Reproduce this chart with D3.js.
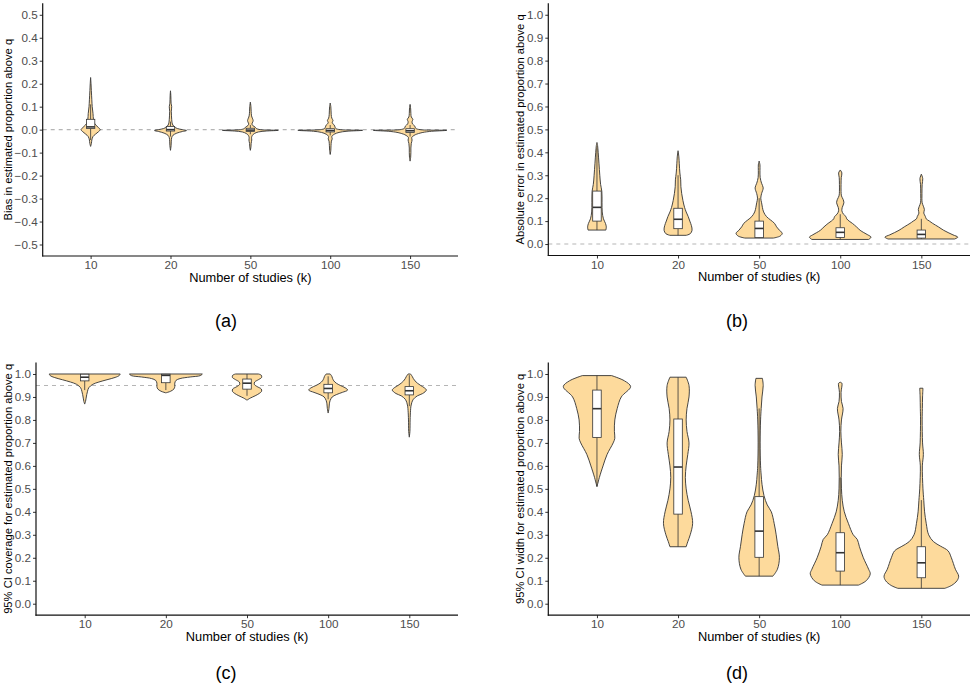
<!DOCTYPE html>
<html><head><meta charset="utf-8">
<script src="https://cdn.jsdelivr.net/npm/d3@7"></script>
<style>body{margin:0;background:#fff}svg{display:block}</style>
</head><body><svg id="chart" width="975" height="686"></svg>
<script>
// ---------- DATA ----------
const categories = ["10", "20", "50", "100", "150"];
const biasTicks = [-0.5, -0.4, -0.3, -0.2, -0.1, 0.0, 0.1, 0.2, 0.3, 0.4, 0.5];
const unitTicks = [0.0, 0.1, 0.2, 0.3, 0.4, 0.5, 0.6, 0.7, 0.8, 0.9, 1.0];

// violin profiles: [value, relative density (full width as share of category step)]
const biasDensity = [
  [[-0.073,0],[-0.06,0.02],[-0.045,0.03],[-0.03,0.06],[-0.02,0.12],[-0.01,0.19],[0,0.24],[0.01,0.19],[0.02,0.13],[0.03,0.09],[0.045,0.07],[0.07,0.06],[0.1,0.04],[0.13,0.03],[0.17,0.018],[0.2,0.01],[0.227,0]],
  [[-0.09,0],[-0.07,0.015],[-0.05,0.02],[-0.035,0.03],[-0.025,0.06],[-0.015,0.16],[-0.008,0.3],[-0.004,0.4],[0.0,0.3],[0.005,0.17],[0.012,0.1],[0.02,0.06],[0.03,0.04],[0.045,0.03],[0.06,0.025],[0.08,0.02],[0.1,0.03],[0.115,0.015],[0.13,0.012],[0.15,0.008],[0.169,0]],
  [[-0.09,0],[-0.075,0.015],[-0.06,0.02],[-0.045,0.035],[-0.035,0.03],[-0.025,0.05],[-0.017,0.1],[-0.01,0.2],[-0.006,0.4],[-0.003,0.7],[0.0,0.25],[0.005,0.15],[0.011,0.12],[0.018,0.06],[0.025,0.04],[0.033,0.06],[0.04,0.07],[0.05,0.05],[0.06,0.03],[0.08,0.02],[0.1,0.015],[0.12,0]],
  [[-0.108,0],[-0.09,0.015],[-0.07,0.02],[-0.05,0.03],[-0.04,0.05],[-0.03,0.04],[-0.02,0.1],[-0.012,0.22],[-0.007,0.42],[-0.003,0.81],[0.0,0.25],[0.005,0.14],[0.012,0.12],[0.02,0.1],[0.03,0.05],[0.04,0.07],[0.05,0.04],[0.065,0.025],[0.085,0.02],[0.1,0.015],[0.116,0]],
  [[-0.137,0],[-0.12,0.015],[-0.1,0.02],[-0.08,0.02],[-0.06,0.03],[-0.045,0.05],[-0.035,0.04],[-0.025,0.1],[-0.015,0.25],[-0.008,0.48],[-0.003,0.92],[0.0,0.25],[0.006,0.14],[0.015,0.12],[0.025,0.06],[0.035,0.05],[0.045,0.07],[0.055,0.03],[0.07,0.02],[0.09,0.015],[0.11,0]]
];
// box stats: [lower whisker, q1, median, q3, upper whisker]
const biasBoxes = [
  [-0.045, 0.005, 0.012, 0.045, 0.11],
  [-0.03, -0.006, 0.0, 0.014, 0.035],
  [-0.02, -0.008, -0.002, 0.006, 0.02],
  [-0.025, -0.01, -0.004, 0.004, 0.02],
  [-0.03, -0.012, -0.005, 0.004, 0.02]
];

const absErrDensity = [
  [[0.061,0.22],[0.075,0.23],[0.09,0.21],[0.11,0.16],[0.14,0.13],[0.18,0.125],[0.23,0.12],[0.26,0.09],[0.3,0.07],[0.35,0.05],[0.4,0.03],[0.43,0.015],[0.443,0]],
  [[0.038,0.2],[0.045,0.3],[0.06,0.345],[0.08,0.33],[0.1,0.29],[0.12,0.25],[0.14,0.2],[0.16,0.16],[0.19,0.12],[0.22,0.09],[0.25,0.07],[0.28,0.065],[0.31,0.045],[0.35,0.03],[0.38,0.02],[0.407,0]],
  [[0.026,0.35],[0.035,0.52],[0.047,0.57],[0.06,0.5],[0.075,0.43],[0.09,0.38],[0.105,0.28],[0.12,0.18],[0.14,0.11],[0.16,0.08],[0.18,0.06],[0.2,0.04],[0.22,0.06],[0.245,0.1],[0.265,0.06],[0.29,0.025],[0.32,0.02],[0.345,0.02],[0.362,0]],
  [[0.02,0.7],[0.03,0.76],[0.04,0.68],[0.05,0.58],[0.06,0.49],[0.075,0.4],[0.09,0.3],[0.1,0.22],[0.11,0.16],[0.12,0.14],[0.13,0.08],[0.145,0.04],[0.16,0.05],[0.18,0.09],[0.195,0.07],[0.21,0.03],[0.23,0.02],[0.26,0.02],[0.29,0.025],[0.31,0.04],[0.323,0]],
  [[0.022,0.82],[0.03,0.9],[0.04,0.78],[0.05,0.66],[0.06,0.55],[0.075,0.42],[0.09,0.28],[0.1,0.2],[0.11,0.12],[0.12,0.1],[0.135,0.06],[0.15,0.075],[0.165,0.05],[0.18,0.02],[0.22,0.015],[0.26,0.02],[0.285,0.035],[0.305,0]]
];
const absErrBoxes = [
  [0.061, 0.1, 0.16, 0.231, 0.42],
  [0.038, 0.067, 0.108, 0.156, 0.3],
  [0.026, 0.028, 0.068, 0.1, 0.2],
  [0.02, 0.029, 0.051, 0.071, 0.13],
  [0.022, 0.026, 0.042, 0.061, 0.11]
];

const coverageDensity = [
  [[0.869,0],[0.88,0.02],[0.895,0.035],[0.91,0.05],[0.925,0.07],[0.94,0.1],[0.955,0.2],[0.965,0.35],[0.975,0.55],[0.985,0.75],[0.993,0.85],[1.0,0.875]],
  [[0.918,0],[0.925,0.12],[0.935,0.2],[0.945,0.22],[0.96,0.22],[0.972,0.25],[0.98,0.35],[0.987,0.6],[0.993,0.85],[1.0,0.9]],
  [[0.886,0],[0.895,0.08],[0.905,0.2],[0.915,0.3],[0.925,0.36],[0.935,0.35],[0.945,0.25],[0.955,0.18],[0.965,0.19],[0.975,0.28],[0.985,0.36],[0.995,0.35],[1.0,0.28]],
  [[0.83,0],[0.85,0.02],[0.87,0.03],[0.885,0.05],[0.9,0.1],[0.91,0.2],[0.92,0.35],[0.93,0.48],[0.94,0.42],[0.95,0.3],[0.96,0.2],[0.97,0.14],[0.98,0.11],[0.99,0.09],[1.0,0.05]],
  [[0.725,0],[0.75,0.015],[0.8,0.02],[0.84,0.03],[0.86,0.04],[0.875,0.06],[0.89,0.1],[0.905,0.2],[0.915,0.33],[0.93,0.42],[0.94,0.37],[0.95,0.28],[0.96,0.2],[0.97,0.14],[0.98,0.1],[0.99,0.07],[1.0,0.03]]
];
const coverageBoxes = [
  [0.93, 0.97, 0.986, 0.999, 1.0],
  [0.93, 0.962, 0.994, 0.999, 1.0],
  [0.905, 0.934, 0.96, 0.978, 1.0],
  [0.89, 0.918, 0.937, 0.955, 0.99],
  [0.86, 0.909, 0.927, 0.945, 0.995]
];

const widthDensity = [
  [[0.51,0],[0.53,0.03],[0.55,0.06],[0.6,0.15],[0.65,0.25],[0.7,0.4],[0.72,0.44],[0.75,0.43],[0.8,0.44],[0.85,0.5],[0.9,0.6],[0.945,0.83],[0.97,0.68],[0.993,0.36]],
  [[0.248,0.2],[0.27,0.24],[0.3,0.3],[0.35,0.36],[0.4,0.32],[0.45,0.25],[0.5,0.2],[0.55,0.18],[0.6,0.2],[0.65,0.24],[0.7,0.27],[0.75,0.22],[0.8,0.2],[0.85,0.22],[0.9,0.27],[0.95,0.27],[0.986,0.2]],
  [[0.12,0.34],[0.15,0.45],[0.2,0.5],[0.25,0.46],[0.3,0.42],[0.35,0.37],[0.4,0.3],[0.43,0.2],[0.47,0.12],[0.52,0.07],[0.56,0.05],[0.6,0.035],[0.7,0.025],[0.8,0.035],[0.85,0.05],[0.9,0.07],[0.95,0.1],[0.981,0.08]],
  [[0.081,0.45],[0.1,0.64],[0.13,0.74],[0.15,0.7],[0.2,0.57],[0.25,0.47],[0.28,0.42],[0.3,0.32],[0.35,0.2],[0.4,0.1],[0.45,0.05],[0.5,0.03],[0.55,0.025],[0.6,0.03],[0.65,0.05],[0.7,0.03],[0.75,0.015],[0.8,0.03],[0.85,0.07],[0.88,0.03],[0.92,0.02],[0.96,0.04],[0.964,0]],
  [[0.067,0.58],[0.08,0.75],[0.1,0.88],[0.12,0.92],[0.15,0.84],[0.2,0.74],[0.23,0.66],[0.25,0.48],[0.27,0.3],[0.3,0.18],[0.35,0.12],[0.4,0.08],[0.45,0.06],[0.5,0.04],[0.6,0.025],[0.65,0.05],[0.7,0.03],[0.8,0.02],[0.85,0.025],[0.9,0.03],[0.938,0.04]]
];
const widthBoxes = [
  [0.51, 0.724, 0.849, 0.93, 0.993],
  [0.248, 0.39, 0.595, 0.804, 0.986],
  [0.12, 0.202, 0.316, 0.466, 0.85],
  [0.081, 0.142, 0.222, 0.309, 0.55],
  [0.067, 0.113, 0.178, 0.248, 0.451]
];

const yTitles = [
  "Bias in estimated proportion above q",
  "Absolute error in estimated proportion above q",
  "95% CI coverage for estimated proportion above q",
  "95% CI width for estimated proportion above q"
];
const xTitle = "Number of studies (k)";
const panelLabels = ["(a)", "(b)", "(c)", "(d)"];
const referenceLines = [0, 0, 0.95, null];

// ---------- LAYOUT ----------
const layout = [
  {left: 42.7, right: 458, top: 3.3, bottom: 256, domain: [-0.55, 0.55], titleX: 8, labelX: 226, labelY: 321},
  {left: 548.3, right: 970, top: 3.3, bottom: 255.5, domain: [-0.05, 1.05], titleX: 520, labelX: 737, labelY: 321},
  {left: 36, right: 458, top: 362.5, bottom: 615.2, domain: [-0.05, 1.05], titleX: 8, labelX: 226, labelY: 673},
  {left: 548.3, right: 970, top: 362.5, bottom: 615.2, domain: [-0.05, 1.05], titleX: 520, labelX: 737, labelY: 673}
];
const panelData = [
  {density: biasDensity, boxes: biasBoxes, ticks: biasTicks},
  {density: absErrDensity, boxes: absErrBoxes, ticks: unitTicks},
  {density: coverageDensity, boxes: coverageBoxes, ticks: unitTicks},
  {density: widthDensity, boxes: widthBoxes, ticks: unitTicks}
];

const FILL = "#FDDA9C", INK = "#333333", FONT = "'Liberation Sans', Arial, Helvetica, sans-serif";
const svg = d3.select("#chart");
const fmt = d3.format(".1f");

layout.forEach((L, i) => {
  const P = panelData[i];
  const g = svg.append("g");
  const x = d3.scalePoint().domain(categories).range([L.left, L.right]).padding(0.6);
  const y = d3.scaleLinear().domain(L.domain).range([L.bottom, L.top]);
  const step = x.step();
  const w = d3.scaleLinear().domain([0, 1]).range([0, step / 2]);

  if (referenceLines[i] !== null) {
    g.append("line")
      .attr("x1", L.left).attr("x2", L.right)
      .attr("y1", y(referenceLines[i])).attr("y2", y(referenceLines[i]))
      .attr("stroke", "#b5b5b5").attr("stroke-width", 1.1)
      .attr("stroke-dasharray", "4,4");
  }

  categories.forEach((c, j) => {
    const cx = x(c);
    const area = d3.area()
      .y(d => y(d[0]))
      .x0(d => cx - w(d[1]))
      .x1(d => cx + w(d[1]))
      .curve(d3.curveCatmullRom.alpha(0.5));
    g.append("path")
      .attr("d", area(P.density[j]))
      .attr("fill", FILL).attr("stroke", INK).attr("stroke-width", 0.9)
      .attr("stroke-linejoin", "round");

    const b = P.boxes[j];
    const bw = step * 0.105;
    g.append("line").attr("x1", cx).attr("x2", cx).attr("y1", y(b[0])).attr("y2", y(b[1]))
      .attr("stroke", INK).attr("stroke-width", 0.8);
    g.append("line").attr("x1", cx).attr("x2", cx).attr("y1", y(b[3])).attr("y2", y(b[4]))
      .attr("stroke", INK).attr("stroke-width", 0.8);
    g.append("rect")
      .attr("x", cx - bw / 2).attr("width", bw)
      .attr("y", y(b[3])).attr("height", Math.max(0.5, y(b[1]) - y(b[3])))
      .attr("fill", "#ffffff").attr("stroke", INK).attr("stroke-width", 0.8);
    g.append("line").attr("x1", cx - bw / 2).attr("x2", cx + bw / 2)
      .attr("y1", y(b[2])).attr("y2", y(b[2]))
      .attr("stroke", INK).attr("stroke-width", 1.6);
  });

  const ya = g.append("g").attr("transform", `translate(${L.left},0)`)
    .call(d3.axisLeft(y).tickValues(P.ticks).tickFormat(fmt).tickSize(3).tickPadding(2));
  const xa = g.append("g").attr("transform", `translate(0,${L.bottom})`)
    .call(d3.axisBottom(x).tickSize(3).tickPadding(2));
  [ya, xa].forEach(a => {
    a.select(".domain").remove();
    a.selectAll(".tick line").attr("stroke", INK).attr("stroke-width", 1);
    a.selectAll(".tick text").attr("fill", "#4d4d4d").style("font-family", FONT).style("font-size", "11.7px");
  });
  g.append("line").attr("x1", L.left).attr("x2", L.left).attr("y1", L.top).attr("y2", L.bottom + 0.5)
    .attr("stroke", "#111").attr("stroke-width", 1.2);
  g.append("line").attr("x1", L.left - 0.5).attr("x2", L.right).attr("y1", L.bottom).attr("y2", L.bottom)
    .attr("stroke", "#111").attr("stroke-width", 1.2);

  g.append("text")
    .attr("transform", `translate(${L.titleX},${(L.top + L.bottom) / 2}) rotate(-90)`)
    .attr("text-anchor", "middle").attr("dominant-baseline", "central")
    .style("font-family", FONT).style("font-size", "11.2px").attr("fill", "#000")
    .text(yTitles[i]);
  g.append("text")
    .attr("x", (L.left + L.right) / 2).attr("y", L.bottom + 21)
    .attr("text-anchor", "middle").attr("dominant-baseline", "central")
    .style("font-family", FONT).style("font-size", "12.8px").attr("fill", "#000")
    .text(xTitle);
  g.append("text")
    .attr("x", L.labelX).attr("y", L.labelY)
    .attr("text-anchor", "middle").attr("dominant-baseline", "central")
    .style("font-family", FONT).style("font-size", "18px").attr("fill", "#000")
    .text(panelLabels[i]);
});
</script>
</body></html>
